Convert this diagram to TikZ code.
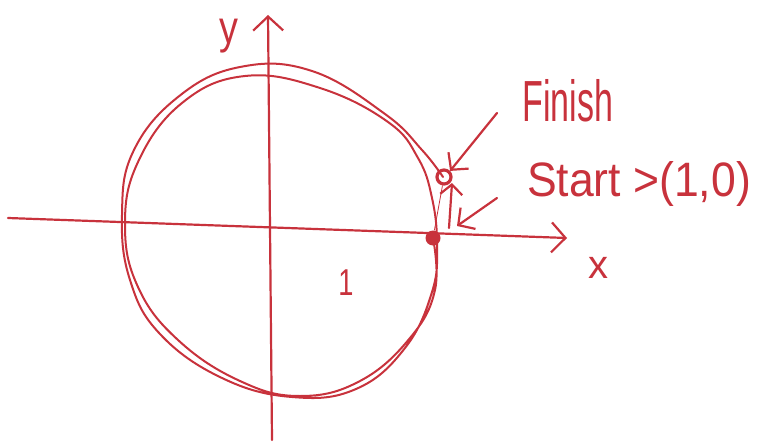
\documentclass[tikz,border=0pt]{standalone}
\usepackage{fontspec}
\setmainfont{Liberation Sans}
\usetikzlibrary{arrows.meta}
\definecolor{sketchred}{HTML}{C8323C}

\tikzset{
  sketch/.style={line width=2.2pt, sketchred, line cap=round, line join=round},
  chevron/.style={-{Straight Barb[length=14pt, width=30pt, line width=2.2pt]}},
  penlabel/.style={text=sketchred, inner sep=0pt}
}

\begin{document}
\begin{tikzpicture}[x=1pt, y=-1pt]
  \useasboundingbox (0,0) rectangle (758,444);

  % Ejes
  \coordinate (xtail) at (8,218);
  \coordinate (xtip) at (567,238);
  \coordinate (ytail) at (272,440);
  \coordinate (ytip) at (268,15);
  \draw[sketch, chevron] (xtail) -- (xtip);
  \draw[sketch, chevron] (ytail) -- (ytip);
  \node[penlabel, font=\fontsize{42}{46}\selectfont] (ylab) at (229,36) {\scalebox{0.9}[1.1]{y}};
  \node[penlabel, font=\fontsize{40}{44}\selectfont] (xlab) at (598,268) {x};
  \node[penlabel, font=\fontsize{34}{40}\selectfont] (one) at (346,283) {\scalebox{0.8}[1.1]{1}};

  % Trazo a mano alzada: dos vueltas
  \draw[sketch, line width=2pt] plot[smooth, tension=0.7] coordinates {
    (433,238) (435,290) (410,338) (360,381) (300,396) (240,381) (178,340)
    (138,287) (125,225) (138,162) (182,103) (245,76) (320,88) (388,122)
    (418,158) (432,198) (437,245) (432,292) (405,348) (356,389) (292,397)
    (222,378) (160,334) (130,280) (122,215) (133,152) (178,97) (240,67)
    (312,71) (385,114) (422,150) (443,177)};

  % Inicio y final
  \node[circle, fill=sketchred, minimum size=15pt, inner sep=0pt] (start) at (433,238) {};
  \node[circle, draw=sketchred, line width=3.2pt, minimum size=14pt, inner sep=0pt] (finish) at (444,177) {};
  \draw[sketchred, line width=0.8pt] (start) -- (finish);

  % Sentido del recorrido
  \coordinate (dirtail) at (449,228);
  \coordinate (dirtip) at (452,183);
  \draw[sketch, -{Straight Barb[length=10pt, width=22pt, line width=2.2pt]}] (dirtail) -- (dirtip);

  % Etiquetas
  \node[penlabel, font=\fontsize{40}{46}\selectfont] (finlab) at (568,101) {\scalebox{0.85}[1.45]{Finish}};
  \node[penlabel, font=\fontsize{42}{48}\selectfont] (startlab) at (639,184) {\scalebox{1.06}[1.15]{Start >(1,0)}};
  \draw[sketch, -{Straight Barb[length=12pt, width=26pt, line width=2.2pt]}] (497,113) -- (finish.north east);
  \draw[sketch, -{Straight Barb[length=12pt, width=26pt, line width=2.2pt]}] (497,198) -- (457,226);
\end{tikzpicture}
\end{document}
